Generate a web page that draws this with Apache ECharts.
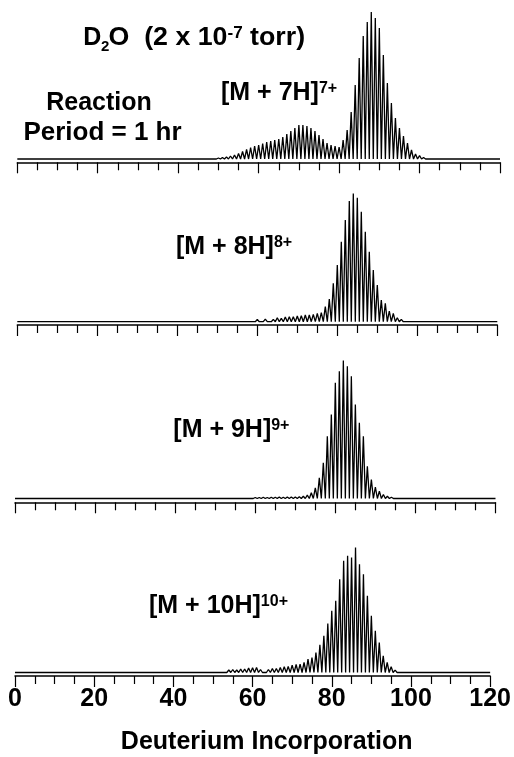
<!DOCTYPE html>
<html>
<head>
<meta charset="utf-8">
<script src="https://cdn.jsdelivr.net/npm/echarts@6/dist/echarts.min.js"></script>
<style>
html, body { margin: 0; padding: 0; background: #fff; }
#chart { width: 514px; height: 757px; }
</style>
</head>
<body>
<div id="chart"></div>
<script>
// x axis (deuterium incorporation)
var xMin = 0;
var xMax = 120;
var xStep = 20;

// peak heights, one per deuterium number, starting at the given D
var start7 = 50;
var peaks7 = [1, 1.5, 2, 3, 4, 5.5, 7.5, 9.5, 11.5, 13,
              14, 15.5, 17, 18, 19, 20, 22, 25, 28, 31,
              34, 34, 33, 31, 28, 24, 20, 16, 14, 13,
              12, 19, 29, 47, 74, 101, 123, 137, 147, 141,
              131, 104, 76, 56, 41, 31, 23, 16, 9, 5,
              3.3, 1.5];

var start8 = 45;
var peaks8 = [0.8, 1, 1, 1.2, 1, 1.5, 1.2, 1.5, 1.5, 1.2,
              1.8, 1.5, 2, 1.8, 2, 2.2, 2, 2.5, 1.7, 2.3,
              4, 3.3, 4.7, 5, 5, 5.7, 6, 6.7, 6.7, 7.3,
              8.3, 9, 15, 22.7, 38.3, 56.7, 80, 101.7, 120.7, 128.3,
              124, 110, 90, 70, 51.7, 36.7, 21.7, 18.3, 10.7, 8.3,
              4, 2.3, 1.7, 1];

var start9 = 60;
var peaks9 = [1, 1, 1.2, 1, 1.3, 1.2, 1.5, 1.3, 1.5, 1.5,
              1.5, 1.7, 2.3, 3.3, 5.7, 10.7, 20.7, 35.7, 62.3, 84,
              115.7, 127.3, 138, 132.3, 122.3, 94, 75.7, 62.3, 32.3, 19,
              11.3, 7.3, 4, 2.3, 1.3];

var start10 = 50;
var peaks10 = [0.8, 1, 1.5, 2, 2.5, 3, 2.5, 3.5, 3.5, 4.5,
               4.7, 5, 3, 2, 3, 4, 4, 5, 5.7, 6,
               7.3, 8, 8.3, 10, 13.3, 15, 20, 27.7, 36.7, 49,
               61.7, 71.7, 93.3, 111.7, 116.7, 115, 125, 108.3, 98.3, 76.7,
               56.7, 41.7, 30, 16.7, 10, 5.7, 2.3, 1];

var ionLabels = ['[M + 7H]', '[M + 8H]', '[M + 9H]', '[M + 10H]'];
var ionCharges = ['7+', '8+', '9+', '10+'];

// panel geometry in pixels
var panels = [
  { start: start7,  peaks: peaks7,  left: 17.3, right: 14,   top: 9,     yMin: -3.3, yMax: 150 },
  { start: start8,  peaks: peaks8,  left: 17.3, right: 16.7, top: 191.7, yMin: -3.3, yMax: 130 },
  { start: start9,  peaks: peaks9,  left: 15,   right: 18.5, top: 358.5, yMin: -3.8, yMax: 140 },
  { start: start10, peaks: peaks10, left: 15,   right: 18,   top: 542.5, yMin: -3.5, yMax: 130 }
];

var FONT = '"Liberation Sans", Arial, Helvetica, sans-serif';

// each peak drawn as a narrow spike on a flat baseline
function spectrum(start, heights) {
  var pts = [[xMin, 0]];
  for (var i = 0; i < heights.length; i++) {
    var d = start + i;
    pts.push([d - 0.5, 0]);
    pts.push([d, heights[i]]);
  }
  pts.push([start + heights.length - 0.5, 0]);
  pts.push([xMax, 0]);
  return pts;
}

var grids = [], xAxes = [], yAxes = [], series = [];
panels.forEach(function (p, i) {
  var last = i === panels.length - 1;
  grids.push({
    left: p.left, right: p.right, top: p.top,
    height: p.yMax - p.yMin
  });
  xAxes.push({
    type: 'value', gridIndex: i,
    min: xMin, max: xMax, interval: xStep,
    axisLine: { show: true, onZero: false, lineStyle: { color: '#000', width: 1.5 } },
    axisTick: { show: true, inside: false, length: 11, lineStyle: { color: '#000', width: 1.2 } },
    minorTick: { show: true, splitNumber: 4, length: 8, lineStyle: { color: '#000', width: 1.2 } },
    splitLine: { show: false },
    axisLabel: {
      show: last, margin: 11, color: '#000',
      fontSize: 25, fontWeight: 'bold', fontFamily: FONT
    }
  });
  yAxes.push({
    type: 'value', gridIndex: i, min: p.yMin, max: p.yMax,
    show: false, splitLine: { show: false }
  });
  series.push({
    type: 'line', xAxisIndex: i, yAxisIndex: i,
    data: spectrum(p.start, p.peaks),
    showSymbol: false, silent: true,
    lineStyle: { color: '#000', width: 1.3 }
  });
});

function richText(x, y, text, align, size, sx) {
  return {
    type: 'text', x: x, y: y, silent: true,
    scaleX: sx || 1,
    style: {
      text: text, align: align || 'left', verticalAlign: 'middle',
      fill: '#000', fontSize: size || 25, fontWeight: 'bold', fontFamily: FONT,
      rich: {
        n: { fontSize: 25, fontWeight: 'bold', fontFamily: FONT, fill: '#000' },
        sup: { fontSize: 16, fontWeight: 'bold', fontFamily: FONT, fill: '#000', verticalAlign: 'top' }
      }
    }
  };
}

var ionPos = [[221, 93.5], [176, 247], [173.3, 430.3], [149, 606]];
var graphics = [
  richText(83.3, 38, '{n|D}'),
  richText(101, 46.5, '2', 'left', 15),
  richText(108.5, 38, '{n|O  (2 x 10}{sup|-7}{n| torr)}', 'left', 25, 1.07),
  richText(99, 103, '{n|Reaction}', 'center'),
  richText(102.5, 133, '{n|Period = 1 hr}', 'center', 25, 1.04),
  richText(266.7, 742, '{n|Deuterium Incorporation}', 'center')
];
ionLabels.forEach(function (lab, i) {
  graphics.push(richText(ionPos[i][0], ionPos[i][1], '{n|' + lab + '}{sup|' + ionCharges[i] + '}'));
});

var chart = echarts.init(document.getElementById('chart'), null, { renderer: 'canvas' });
chart.setOption({
  animation: false,
  backgroundColor: '#fff',
  grid: grids,
  xAxis: xAxes,
  yAxis: yAxes,
  series: series,
  graphic: graphics
});
</script>
</body>
</html>
